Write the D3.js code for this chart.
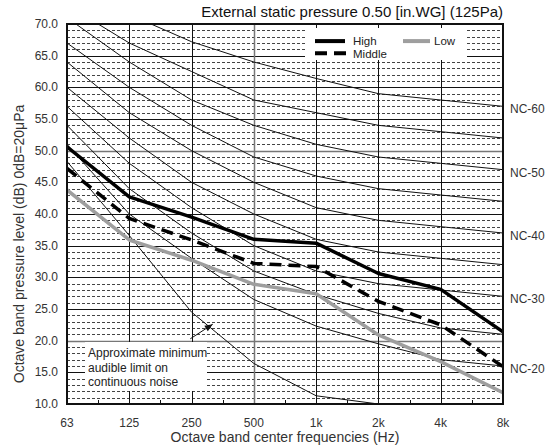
<!DOCTYPE html>
<html><head><meta charset="utf-8">
<script src="https://cdn.jsdelivr.net/npm/d3@7/dist/d3.min.js"></script>
<style>body{margin:0;background:#fff}svg{display:block;font-family:Arial,"Liberation Sans",sans-serif}</style>
</head><body><svg id="c" width="549" height="448"></svg>
<script>
const categories = ["63","125","250","500","1k","2k","4k","8k"];
const yTickValues = [10,15,20,25,30,35,40,45,50,55,60,65,70];
const high   = [50.6, 42.7, 39.5, 36.0, 35.4, 30.6, 28.1, 21.4];
const middle = [47.2, 39.3, 35.9, 32.2, 31.7, 26.2, 22.5, 15.9];
const low    = [43.8, 35.9, 32.7, 28.9, 27.4, 20.9, 16.7, 11.8];
const ncNames = ["NC-20","NC-25","NC-30","NC-35","NC-40","NC-45","NC-50","NC-55","NC-60"];
const ncLabelled = ["NC-20","NC-30","NC-40","NC-50","NC-60"];
const nc20 = [51, 40, 33, 26.5, 22.3, 19.5, 17, 16];
const nc25 = [54, 44, 37, 31, 27.3, 24.3, 22, 21];
const nc30 = [57, 48, 41, 35, 31, 29, 28, 27];
const nc35 = [60, 52, 45, 40, 36, 34, 33, 32];
const nc40 = [64, 56, 50, 45, 41, 39, 38, 37];
const nc45 = [67, 60, 54, 49, 46, 44, 43, 42];
const nc50 = [71, 64, 58, 54, 51, 49, 48, 47];
const nc55 = [73, 67, 62.5, 58, 56, 54, 53, 52];
const nc60 = [77, 71.5, 67.2, 64, 61.4, 59, 58, 57];
const audible = [48.3, 36.6, 24.5, 16.4, 11.3, 10.0];
const title = "External static pressure 0.50 [in.WG] (125Pa)";
const yTitle = "Octave band pressure level (dB) 0dB=20\u03bcPa";
const xTitle = "Octave band center frequencies (Hz)";
const annotation = ["Approximate minimum","audible limit on","continuous noise"];
const legendItems = ["High","Middle","Low"];

const ncSeries = [nc20,nc25,nc30,nc35,nc40,nc45,nc50,nc55,nc60];
const L=67,R=503,T=24,B=404;
const svg = d3.select("#c");
const x = d3.scalePoint().domain(categories).range([L,R]);
const y = d3.scaleLinear().domain([10,70]).range([B,T]);
const xi = d3.scaleLinear().domain([0,categories.length-1]).range([L,R]);
const cy = v => Math.round(y(v))+0.5;
const cx = v => Math.round(x(v))+0.5;

svg.append("defs").append("clipPath").attr("id","clip")
  .append("rect").attr("x",L).attr("y",T).attr("width",R-L).attr("height",B-T);

const g = svg.append("g");
const minor = d3.range(11,70).filter(v=>v%5!==0);
g.selectAll(".mn").data(minor).join("line")
  .attr("x1",L).attr("x2",R).attr("y1",d=>cy(d)).attr("y2",d=>cy(d))
  .attr("stroke","#444").attr("stroke-width",1).attr("stroke-dasharray","3,2");
g.selectAll(".mj").data(yTickValues).join("line")
  .attr("x1",L).attr("x2",R).attr("y1",d=>cy(d)).attr("y2",d=>cy(d))
  .attr("stroke",d=>(d===20||d===50)?"#777":"#111").attr("stroke-width",d=>(d===20||d===50)?1.5:1);
g.selectAll(".vg").data(categories).join("line")
  .attr("x1",d=>cx(d)).attr("x2",d=>cx(d)).attr("y1",T).attr("y2",B)
  .attr("stroke",d=>d==="500"?"#777":"#111").attr("stroke-width",d=>d==="500"?1.5:1);
g.selectAll(".ht").data(d3.range(0.5,categories.length-1,1)).join("line")
  .attr("x1",d=>Math.round(xi(d))+0.5).attr("x2",d=>Math.round(xi(d))+0.5)
  .attr("y1",B).attr("y2",B-4).attr("stroke","#111");

svg.append("rect").attr("x",305).attr("y",28).attr("width",162).attr("height",32).attr("fill","#fff");
svg.append("rect").attr("x",85).attr("y",342).attr("width",122).attr("height",49).attr("fill","#fff");

const line = d3.line().x((d,i)=>x(categories[i])).y(d=>y(d));
const cl = svg.append("g").attr("clip-path","url(#clip)");
cl.selectAll(".nc").data(ncSeries).join("path")
  .attr("d",line).attr("fill","none").attr("stroke","#111").attr("stroke-width",1);
cl.append("path").datum(audible).attr("d",line).attr("fill","none").attr("stroke","#111").attr("stroke-width",1);
cl.append("path").datum(low).attr("d",line).attr("fill","none").attr("stroke","#9e9e9e").attr("stroke-width",3.5).attr("stroke-linejoin","round");
cl.append("path").datum(middle).attr("d",line).attr("fill","none").attr("stroke","#000").attr("stroke-width",3.5).attr("stroke-dasharray","12,7");
cl.append("path").datum(high).attr("d",line).attr("fill","none").attr("stroke","#000").attr("stroke-width",3.5).attr("stroke-linejoin","round");

svg.append("rect").attr("x",L).attr("y",T).attr("width",R-L).attr("height",B-T)
  .attr("fill","none").attr("stroke","#111").attr("stroke-width",2);

const txt = "#333";
svg.selectAll(".yl").data(yTickValues).join("text")
  .attr("x",L-9).attr("y",d=>y(d)+4).attr("text-anchor","end")
  .attr("font-size",12).attr("fill",txt).text(d=>d3.format(".1f")(d));
svg.selectAll(".xl").data(categories).join("text")
  .attr("x",d=>x(d)).attr("y",B+23).attr("text-anchor","middle")
  .attr("font-size",12).attr("fill",txt).text(d=>d);
svg.append("text").attr("x",(L+R)/2).attr("y",442).attr("text-anchor","middle")
  .attr("font-size",14).attr("fill",txt).text(xTitle);
svg.append("text").attr("transform",`translate(24,${(T+B)/2+30}) rotate(-90)`).attr("text-anchor","middle")
  .attr("font-size",14).attr("fill",txt).text(yTitle);
svg.append("text").attr("x",R).attr("y",17).attr("text-anchor","end")
  .attr("font-size",15).attr("fill","#111").text(title);

ncNames.forEach((n,i)=>{
  if(!ncLabelled.includes(n)) return;
  const s = ncSeries[i];
  svg.append("text").attr("x",R+7).attr("y",y(s[s.length-1])+7)
    .attr("font-size",12).attr("fill",txt).text(n);
});

const lg = svg.append("g");
lg.append("line").attr("x1",315).attr("x2",345).attr("y1",y(67.3)).attr("y2",y(67.3)).attr("stroke","#000").attr("stroke-width",4);
lg.append("text").attr("x",353).attr("y",y(67.3)+4).attr("font-size",11.5).attr("fill","#222").text(legendItems[0]);
lg.append("line").attr("x1",315).attr("x2",346).attr("y1",y(65.4)).attr("y2",y(65.4)).attr("stroke","#000").attr("stroke-width",4).attr("stroke-dasharray","12,7");
lg.append("text").attr("x",353).attr("y",y(65.4)+4.5).attr("font-size",11.5).attr("fill","#222").text(legendItems[1]);
lg.append("line").attr("x1",403).attr("x2",430).attr("y1",y(67.3)).attr("y2",y(67.3)).attr("stroke","#9e9e9e").attr("stroke-width",4);
lg.append("text").attr("x",434).attr("y",y(67.3)+4).attr("font-size",11.5).attr("fill","#222").text(legendItems[2]);

annotation.forEach((t,i)=>{
  svg.append("text").attr("x",88).attr("y",357+i*14.5).attr("font-size",12).attr("fill","#222").text(t);
});
const ax0 = xi(1.98), ay0 = y(20.3), ax1 = xi(2.34), ay1 = y(22.6);
svg.append("line").attr("x1",ax0).attr("y1",ay0).attr("x2",ax1).attr("y2",ay1).attr("stroke","#111").attr("stroke-width",1);
const ang = Math.atan2(ay1-ay0, ax1-ax0);
const hl = 8, hw = 3.2;
const p = [[ax1,ay1],
  [ax1-hl*Math.cos(ang)+hw*Math.sin(ang), ay1-hl*Math.sin(ang)-hw*Math.cos(ang)],
  [ax1-hl*Math.cos(ang)-hw*Math.sin(ang), ay1-hl*Math.sin(ang)+hw*Math.cos(ang)]];
svg.append("path").attr("d","M"+p.map(q=>q.join(",")).join("L")+"Z").attr("fill","#111");
</script></body></html>
